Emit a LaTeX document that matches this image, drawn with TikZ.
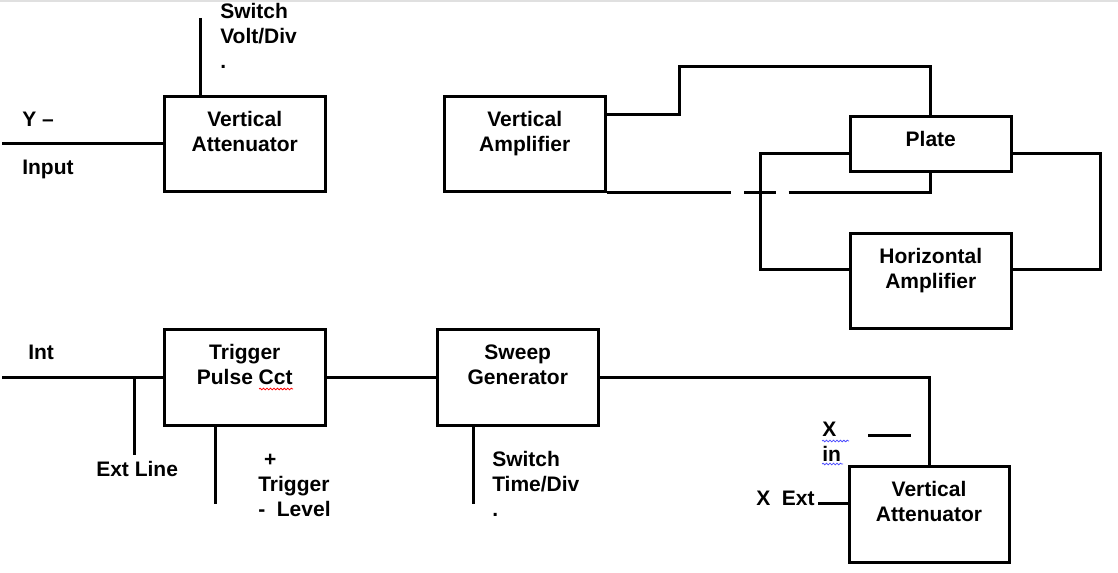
\documentclass[tikz,border=0pt]{standalone}
\usepackage{fontspec}
\setmainfont{Liberation Sans}
\usetikzlibrary{decorations.pathmorphing}
\begin{document}
\begin{tikzpicture}[x=0.75pt,y=-0.75pt,
	wire/.style={line width=2.25pt},
	blk/.style={draw, line width=2.25pt, minimum width=120.4pt, minimum height=71.25pt, inner sep=0pt},
	txt/.style={inner sep=0pt, anchor=north, align=center, font=\fontsize{15.75pt}{18.75pt}\selectfont\bfseries},
	lbl/.style={inner sep=0pt, anchor=north west, align=left, font=\fontsize{15.75pt}{18.75pt}\selectfont\bfseries},
	squig/.style={line width=0.6pt, decorate, decoration={snake, amplitude=0.6pt, segment length=2.6pt}}]
	\useasboundingbox (0,0) rectangle (1118,573);
	\fill[black!12] (0,0) rectangle (1118,2);
	% boxes
	\node[blk] (va1) at (244.75,144) {};
	\node[blk] (vamp) at (524.75,144) {};
	\node[blk, minimum width=121.1pt, minimum height=41.25pt] (plate) at (930.75,144) {};
	\node[blk, minimum width=121.1pt] (hamp) at (930.75,281) {};
	\node[blk, minimum height=72pt] (trig) at (244.75,378) {};
	\node[blk, minimum height=72pt] (sweep) at (517.75,378) {};
	\node[blk, minimum width=120pt] (va2) at (929,514.5) {};
	\node[txt] (va1t) at ([yshift=-12pt]va1.north) {Vertical\\Attenuator};
	\node[txt] (vampt) at ([yshift=-12pt]vamp.north) {Vertical\\Amplifier};
	\node[txt] (platet) at ([yshift=-12pt]plate.north) {Plate};
	\node[txt] (hampt) at ([yshift=-12pt]hamp.north) {Horizontal\\Amplifier};
	\node[txt] (trigt) at ([yshift=-12pt]trig.north) {Trigger\\Pulse Cct};
	\node[txt] (sweept) at ([yshift=-12pt]sweep.north) {Sweep\\Generator};
	\node[txt] (va2t) at ([yshift=-12pt]va2.north) {Vertical\\Attenuator};
	% free ends
	\coordinate (yin) at (2,144);
	\coordinate (vdiv) at (200,18);
	\coordinate (int) at (2,378);
	\coordinate (extl) at (134,455);
	\coordinate (tlev) at (215,504);
	\coordinate (tdiv) at (473,504);
	\coordinate (xa) at (868,436);
	\coordinate (xb) at (911,436);
	\coordinate (xext) at (818,504);
	% connectors
	\draw[wire] (yin) -- (va1.west);
	\draw[wire] (vdiv) -- (vdiv |- va1.north);
	\draw[wire] (vamp.east) ++(0,-29) -| ++(73,-48) -| (plate.north);
	\draw[wire, dash pattern=on 93.4pt off 9.75pt on 24pt off 9.5pt on 200pt] (vamp.south east) -| (plate.south);
	\draw[wire] (plate.west) ++(0,10) -- ++(-88,0) |- ([yshift=8.25pt]hamp.west);
	\draw[wire] (plate.east) ++(0,10) -- ++(88,0) |- ([yshift=8.25pt]hamp.east);
	\draw[wire] (int) -- (trig.west);
	\draw[wire] (extl) -- (extl |- trig.west);
	\draw[wire] (tlev |- trig.south) -- (tlev);
	\draw[wire] (trig.east) -- (sweep.west);
	\draw[wire] (tdiv |- sweep.south) -- (tdiv);
	\draw[wire] (sweep.east) -| (va2.north);
	\draw[wire] (xa) -- (xb);
	\draw[wire] (xext) -- (xext -| va2.west);
	% labels
	\node[lbl] (lyin) at (22,111.5) {Y –};
	\node[lbl] (linput) at (22,159.5) {Input};
	\node[lbl] (lvdiv) at (220,3.5) {Switch\\Volt/Div\\.};
	\node[lbl] (lint) at (28,344.5) {Int};
	\node[lbl] (lext) at (96,461.5) {Ext Line};
	\node[lbl] (ltlev) at (258,451.5) {\vphantom{T}\ +\\Trigger\\-\ \ Level};
	\node[lbl] (ltdiv) at (492,451.5) {Switch\\Time/Div\\.};
	\node[lbl] (lxin) at (822,421.5) {X\\in};
	\node[lbl] (lxext) at (756,490.5) {X\ \ Ext};
	% spelling marks
	\draw[squig, red] (259,389) -- (293,389);
	\draw[squig, blue!70] (822,441) -- (849,441);
	\draw[squig, blue!70] (822,464) -- (843,464);
\end{tikzpicture}
\end{document}
